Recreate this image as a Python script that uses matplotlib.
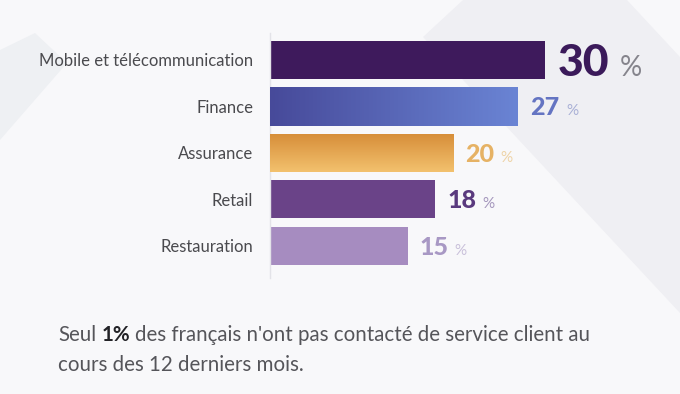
import numpy as np
import matplotlib
matplotlib.use("Agg")
import matplotlib.pyplot as plt
from matplotlib.patches import Polygon

plt.rcParams['font.family'] = ['Lato', 'DejaVu Sans']

categories = ["Mobile et télécommunication", "Finance", "Assurance", "Retail", "Restauration"]
values = [30, 27, 20, 18, 15]
bar_colors = ["#3e1a5c", "#5560b0", "#e6a550", "#6a4388", "#a68cc0"]
num_colors = ["#3b1a5a", "#6474c2", "#e6b264", "#5a3a7e", "#a898c4"]
pct_colors = ["#85848c", "#a9b0d6", "#eed3a6", "#a496bc", "#c9c0da"]
num_sizes = [32, 18, 18, 18, 18]
pct_sizes = [20, 11, 11, 11, 11]
pct_gaps = [11, 7, 6, 6, 6]
# gradients: (start, end, direction)
gradients = {1: ("#474a9a", "#6a84d4", "h"), 2: ("#d68d38", "#f3c16e", "v")}
note_line1 = ["Seul", "1%", "des français n'ont pas contacté de service client au"]
note_line2 = "cours des 12 derniers mois."

W, H, DPI = 680, 394, 100
fig = plt.figure(figsize=(W / DPI, H / DPI), dpi=DPI)
fig.patch.set_facecolor("#f8f8fa")


def px(x, y):
    return (x / W, 1 - y / H)


# faint background shapes
fig.add_artist(Polygon([px(463, 0), px(627, 0), px(680, 57), px(680, 313), px(423, 37)],
                       closed=True, transform=fig.transFigure, facecolor="#efeff3",
                       edgecolor="none", zorder=0))
fig.add_artist(Polygon([px(0, 50), px(35, 33), px(67, 63), px(0, 140)],
                       closed=True, transform=fig.transFigure, facecolor="#eef0f3",
                       edgecolor="none", zorder=0))

ax_left, ax_top, ax_bottom, ax_w = 270, 33, 278, 380
ax = fig.add_axes([ax_left / W, (H - ax_bottom) / H, ax_w / W, (ax_bottom - ax_top) / H])
ax.set_facecolor("none")
ax.set_zorder(1)

y = np.arange(len(values))
bars = ax.barh(y, values, height=0.82, color=bar_colors, zorder=2)
ax.set_xlim(0, ax_w / 9.18)
ax.set_ylim(4.69, -0.58)

for i, (c0, c1, d) in gradients.items():
    b = bars[i]
    a0 = np.array(matplotlib.colors.to_rgb(c0))
    a1 = np.array(matplotlib.colors.to_rgb(c1))
    t = np.linspace(0, 1, 256)
    grad = a0[None, :] * (1 - t[:, None]) + a1[None, :] * t[:, None]
    img = grad[None, :, :] if d == "h" else grad[:, None, :]
    x0, y0, bw, bh = b.get_x(), b.get_y(), b.get_width(), b.get_height()
    im = ax.imshow(img, extent=(x0, x0 + bw, y0, y0 + bh), origin="lower",
                   aspect="auto", zorder=3)
    im.set_clip_path(b)

ax.set_yticks(y)
ax.set_yticklabels(categories, fontsize=12, color="#4a4a4e")
ax.tick_params(axis="y", length=0, pad=12)
ax.set_xticks([])
for s in ["top", "right", "bottom"]:
    ax.spines[s].set_visible(False)
ax.spines["left"].set_color("#e3e3e8")
ax.spines["left"].set_linewidth(1)

renderer = fig.canvas.get_renderer()
for i, v in enumerate(values):
    off = 12 * 0.72
    t = ax.annotate(str(v), (v, i), xytext=(off, -0.36 * num_sizes[i]),
                    textcoords="offset points", ha="left", va="baseline",
                    fontsize=num_sizes[i], fontweight="black", color=num_colors[i], zorder=4)
    wpt = t.get_window_extent(renderer).width * 72 / DPI
    ax.annotate("%", (v, i), xytext=(off + wpt + pct_gaps[i] * 0.72, -0.36 * num_sizes[i]),
                textcoords="offset points", ha="left", va="baseline",
                fontsize=pct_sizes[i], color=pct_colors[i], zorder=4)

# note below the chart, one line with a bold part
note_fs = 14.8
weights = ["normal", "bold", "normal"]
colors = ["#55555a", "#222226", "#55555a"]
space = fig.text(0, 0, "a a", fontsize=note_fs)
nospace = fig.text(0, 0, "aa", fontsize=note_fs)
space_w = space.get_window_extent(renderer).width - nospace.get_window_extent(renderer).width
space.remove()
nospace.remove()
x = 58
for part, wt, col in zip(note_line1, weights, colors):
    t = fig.text(x / W, 1 - 341 / H, part, fontsize=note_fs, color=col, fontweight=wt,
                 ha="left", va="baseline")
    x += t.get_window_extent(renderer).width + space_w
fig.text(58 / W, 1 - 371 / H, note_line2, fontsize=note_fs, color="#55555a",
         ha="left", va="baseline")

fig.savefig("out.png", dpi=DPI, facecolor=fig.get_facecolor())
